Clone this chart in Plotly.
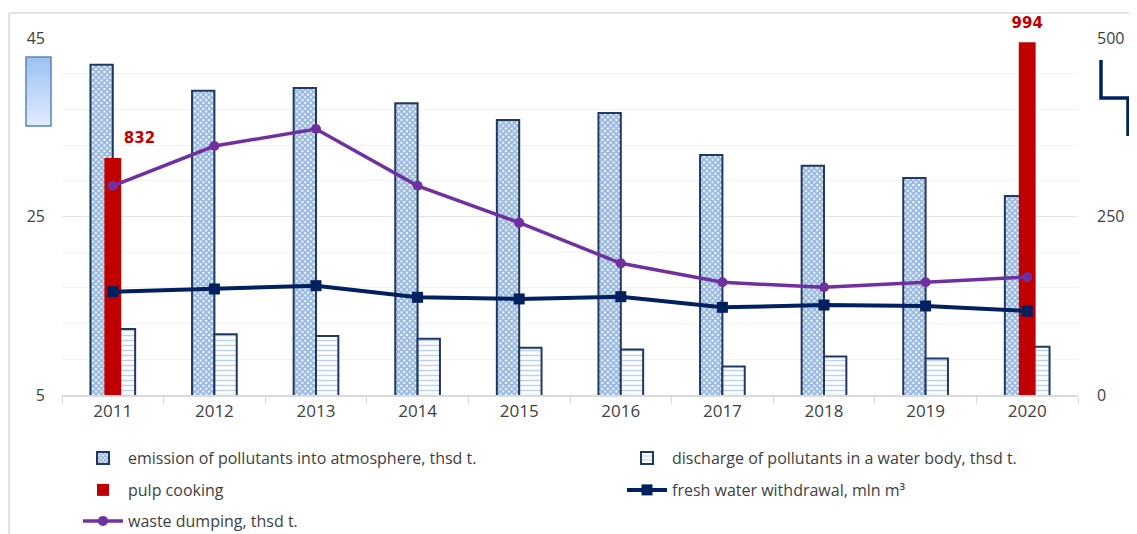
import plotly.graph_objects as go

years = ["2011", "2012", "2013", "2014", "2015", "2016", "2017", "2018", "2019", "2020"]
emission = [42.0, 39.1, 39.4, 37.7, 35.8, 36.6, 31.9, 30.7, 29.3, 27.3]
discharge = [12.4, 11.8, 11.6, 11.3, 10.3, 10.1, 8.2, 9.3, 9.1, 10.4]
pulp = [832, None, None, None, None, None, None, None, None, 994]
fresh_water = [144.7, 148.5, 153.1, 136.8, 134.5, 137.7, 122.8, 126.0, 124.7, 117.6]
waste = [293, 348.7, 372.5, 293, 241.3, 184.4, 157.8, 150.8, 157.8, 165.3]

# page geometry (the page body adds an 8px margin around the figure)
PAGE_W, PAGE_H = 1137, 534
OFF = 8
W, H = PAGE_W - OFF, PAGE_H - OFF
L, R, T, B = 62, 1078, 38, 395  # plot area in page pixels


def px(x):
    return (x - L) / (R - L)


def py(y):
    return (B - y) / (B - T)


NAVY = "#002060"
TXT = "#404040"
FONT = "Open Sans"

fig = go.Figure()

fig.add_trace(go.Bar(
    x=years, y=emission, name="emission of pollutants into atmosphere, thsd t.",
    yaxis="y", offset=-0.22, width=0.22,
    marker=dict(color="white", line=dict(color="#1F3864", width=2),
                pattern=dict(shape="x", fgcolor="#2E6FC0", bgcolor="white", size=4, solidity=0.72)),
    legend="legend",
))
fig.add_trace(go.Bar(
    x=years, y=discharge, name="discharge of pollutants in a water body, thsd t.",
    yaxis="y", offset=0.0, width=0.22,
    marker=dict(color="white", line=dict(color="#1F3864", width=2),
                pattern=dict(shape="-", fgcolor="#7AA8DC", bgcolor="white", size=5, solidity=0.3)),
    legend="legend2",
))
fig.add_trace(go.Bar(
    x=years, y=pulp, name="pulp cooking",
    yaxis="y2", offset=-0.083, width=0.166,
    marker=dict(color="#C00000", line=dict(width=0)),
    legend="legend3",
))
# data labels for pulp cooking
label_pos = ["top right" if i == 0 else "top center" for i in range(len(years))]
fig.add_trace(go.Scatter(
    x=years, y=pulp, yaxis="y2", mode="markers+text",
    marker=dict(size=16, color="rgba(0,0,0,0)"),
    text=[("%d" % v) if v is not None else "" for v in pulp],
    textposition=label_pos,
    textfont=dict(family="DejaVu Sans", size=15, color="#C00000", weight="bold"),
    showlegend=False, hoverinfo="skip", cliponaxis=False,
))
fig.add_trace(go.Scatter(
    x=years, y=fresh_water, name="fresh water withdrawal, mln m³",
    yaxis="y3", mode="lines+markers",
    line=dict(color=NAVY, width=4), marker=dict(symbol="square", size=11, color=NAVY),
    legend="legend4",
))
fig.add_trace(go.Scatter(
    x=years, y=waste, name="waste dumping, thsd t.",
    yaxis="y3", mode="lines+markers",
    line=dict(color="#7030A0", width=3.5), marker=dict(symbol="circle", size=10, color="#7030A0"),
    legend="legend5",
))

shapes = []
# outer chart border (top and left)
shapes.append(dict(type="line", xref="paper", yref="paper", x0=px(9), x1=px(1140), y0=py(13), y1=py(13),
                   line=dict(color="#d9d9d9", width=1.5), layer="below"))
shapes.append(dict(type="line", xref="paper", yref="paper", x0=px(9), x1=px(9), y0=py(13), y1=py(540),
                   line=dict(color="#d9d9d9", width=1.5), layer="below"))
# decorative gradient rectangle on the left
top_c = (158, 195, 243)
bot_c = (222, 234, 251)
n = 14
y0p, y1p = 57, 126
for i in range(n):
    t = i / (n - 1)
    c = tuple(int(round(top_c[k] + (bot_c[k] - top_c[k]) * t)) for k in range(3))
    ya = y0p + (y1p - y0p) * i / n
    yb = y0p + (y1p - y0p) * (i + 1) / n + 0.6
    shapes.append(dict(type="rect", xref="paper", yref="paper", x0=px(26), x1=px(51), y0=py(ya), y1=py(yb),
                       fillcolor="rgb(%d,%d,%d)" % c, line=dict(width=0)))
shapes.append(dict(type="rect", xref="paper", yref="paper", x0=px(26), x1=px(51), y0=py(57), y1=py(126),
                   fillcolor="rgba(0,0,0,0)", line=dict(color="#5A87B8", width=1.5)))
# decorative step line on the right
shapes.append(dict(type="path", xref="paper", yref="paper",
                   path="M %f %f L %f %f L %f %f L %f %f" % (px(1101), py(60), px(1101), py(98),
                                                            px(1128), py(98), px(1128), py(136)),
                   line=dict(color=NAVY, width=3.5)))

legend_common = dict(orientation="h", xanchor="left", yanchor="middle", bgcolor="rgba(0,0,0,0)",
                     font=dict(family=FONT, size=16, color=TXT), itemwidth=40)

fig.update_layout(
    width=W, height=H,
    margin=dict(l=L - OFF, r=PAGE_W - R, t=T - OFF, b=PAGE_H - B, autoexpand=False),
    paper_bgcolor="white", plot_bgcolor="white",
    barmode="overlay",
    showlegend=True,
    font=dict(family=FONT, color=TXT),
    xaxis=dict(type="category", range=[-0.5, 9.5], showline=True, linecolor="#d9d9d9", linewidth=1.5,
               ticks="outside", tickson="boundaries", ticklen=7, tickcolor="#d9d9d9",
               tickfont=dict(family=FONT, size=17, color=TXT), showgrid=False),
    yaxis=dict(range=[5, 45], tickvals=[5, 25, 45], showgrid=True, gridcolor="#e4e4e4", gridwidth=1,
               minor=dict(dtick=4, tick0=5, showgrid=True, gridcolor="#f2f2f2", gridwidth=1),
               zeroline=False, ticks="", ticklabelstandoff=16,
               tickfont=dict(family=FONT, size=16, color=TXT)),
    yaxis2=dict(range=[500, 1000], overlaying="y", showticklabels=False, showgrid=False,
                zeroline=False, showline=False, ticks=""),
    yaxis3=dict(range=[0, 500], tickvals=[0, 250, 500], overlaying="y", side="right",
                showgrid=False, zeroline=False, ticks="", ticklabelstandoff=18,
                tickfont=dict(family=FONT, size=16, color=TXT)),
    legend=dict(x=px(78), y=py(458), **legend_common),
    legend2=dict(x=px(622), y=py(458), **legend_common),
    legend3=dict(x=px(78), y=py(490), **legend_common),
    legend4=dict(x=px(622), y=py(490), **legend_common),
    legend5=dict(x=px(78), y=py(521), **legend_common),
    shapes=shapes,
)

fig.write_html("out.html")
